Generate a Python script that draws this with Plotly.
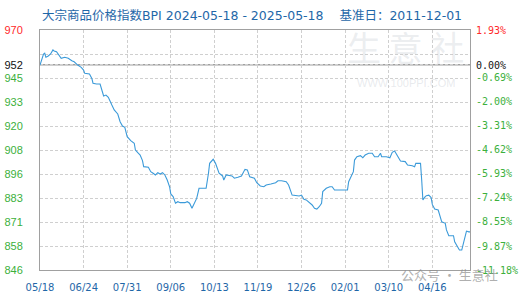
import pandas as pd
import plotly.graph_objects as go

start_date = "2024-05-18"
end_date = "2025-05-18"

# days since start date and BPI values
days_since_start = [0, 3, 4, 5, 7, 9, 11, 12, 14, 16, 18, 21, 24, 27, 29, 32, 35, 37, 38, 42,
                    44, 45, 48, 51, 53, 54, 56, 58, 61, 63, 66, 68, 70, 72, 74, 77, 80, 81, 83, 85,
                    87, 88, 92, 94, 96, 98, 100, 102, 104, 106, 108, 110, 111, 113, 115, 117, 119, 123, 125, 127,
                    129, 131, 133, 135, 141, 143, 144, 147, 149, 152, 155, 156, 158, 163, 165, 168, 171, 174, 176, 178,
                    182, 184, 187, 190, 192, 196, 200, 202, 205, 209, 211, 214, 220, 222, 224, 226, 229, 231, 233, 235,
                    237, 239, 240, 243, 246, 248, 250, 261, 262, 265, 266, 267, 269, 272, 274, 276, 279, 282, 284, 287,
                    289, 290, 294, 297, 299, 301, 303, 306, 310, 312, 316, 318, 319, 323, 324, 325, 327, 328, 330, 332,
                    333, 335, 338, 340, 341, 344, 345, 347, 351, 352, 354, 356, 358, 359, 361, 362, 364, 365]
bpi_values = [951.9, 957.6, 958.0, 955.9, 956.6, 957.6, 959.7, 959.2, 958.8, 957.1, 955.4, 955.9, 955.4, 954.1, 953.6, 951.9, 950.7, 949.3, 947.6, 947.3,
              945.0, 942.5, 942.1, 942.1, 937.3, 935.9, 936.4, 935.2, 931.2, 928.7, 926.6, 922.6, 920.4, 919.7, 914.9, 912.8, 911.5, 908.0, 906.6, 905.4,
              902.5, 899.4, 899.1, 896.8, 896.0, 895.1, 896.3, 895.6, 896.3, 895.1, 892.5, 889.0, 885.3, 883.9, 880.5, 881.3, 880.8, 880.8, 881.3, 880.5,
              877.9, 880.5, 883.0, 888.2, 888.2, 896.0, 901.1, 903.2, 901.1, 896.0, 894.6, 892.5, 895.1, 894.6, 893.4, 893.9, 894.6, 898.0, 897.7, 894.2,
              893.4, 891.1, 889.4, 889.0, 889.9, 890.4, 891.1, 892.1, 892.1, 891.6, 889.9, 884.7, 884.2, 884.7, 882.5, 882.2, 880.8, 879.6, 877.9, 877.5,
              878.7, 880.5, 886.5, 888.2, 889.0, 889.0, 887.3, 887.3, 891.6, 896.0, 896.8, 902.8, 904.5, 905.1, 904.0, 905.4, 906.3, 906.3, 904.5, 904.5,
              906.3, 904.5, 904.5, 904.0, 906.8, 907.5, 905.4, 902.3, 902.0, 900.2, 899.9, 899.4, 901.1, 901.1, 892.5, 882.2, 883.9, 884.4, 884.7, 883.4,
              879.9, 877.5, 877.0, 873.5, 870.9, 870.1, 866.7, 863.7, 863.7, 860.6, 858.0, 856.3, 856.3, 858.9, 862.7, 866.1, 865.7, 865.7]

x_tick_days = [0, 37, 74, 111, 148, 185, 222, 259, 296, 333]
x_tick_labels = ["05/18", "06/24", "07/31", "09/06", "10/13", "11/19", "12/26", "02/01", "03/10", "04/16"]

left_range = [846, 970]
left_tick_vals = [846, 858.4, 870.8, 883.2, 895.6, 908, 920.4, 932.8, 945.2, 952, 957.6, 970]
left_tick_text = ["846", "858", "871", "883", "896", "908", "920", "933", "945", "952", "", "970"]
base_value = 952

right_range = [-11.18, 1.93]
right_tick_vals = [-11.18, -9.87, -8.55, -7.24, -5.93, -4.62, -3.31, -2.00, -0.69, 0.00, 1.93]
right_tick_text = ["-11.18%", "-9.87%", "-8.55%", "-7.24%", "-5.93%", "-4.62%", "-3.31%", "-2.00%", "-0.69%", "0.00%", "1.93%"]

GREEN = "#3cb03c"
RED = "#ff2a2a"
BLACK = "#111111"
BLUE = "#1f67a8"


def colored(text, color):
    return f"<span style='color:{color}'>{text}</span>"


start = pd.Timestamp(start_date)
dates = [start + pd.Timedelta(days=d) for d in days_since_start]
x_tick_vals = [start + pd.Timedelta(days=d) for d in x_tick_days]

lt = []
for v, t in zip(left_tick_vals, left_tick_text):
    if v == 970:
        lt.append(colored(t, RED))
    elif v == base_value:
        lt.append(colored(t, BLACK))
    else:
        lt.append(colored(t, GREEN))

rt = []
for v, t in zip(right_tick_vals, right_tick_text):
    if v > 0:
        rt.append(colored(t, RED))
    elif v == 0:
        rt.append(colored(t, BLACK))
    else:
        rt.append(colored(t, GREEN))

fig = go.Figure()
fig.add_trace(go.Scatter(x=dates, y=bpi_values, mode="lines",
                         line=dict(color="#3b9ad9", width=1.1), showlegend=False))
# invisible trace to activate secondary axis
fig.add_trace(go.Scatter(x=[dates[0]], y=[0], yaxis="y2", mode="markers",
                         marker=dict(opacity=0), showlegend=False, hoverinfo="skip"))

grid = dict(showgrid=True, gridcolor="#cfcfcf", gridwidth=1, griddash="3px,2px")

fig.update_layout(
    width=520, height=300, autosize=False,
    margin=dict(l=40, r=50, t=30, b=30),
    paper_bgcolor="white", plot_bgcolor="white",
    xaxis=dict(type="date", range=[start, pd.Timestamp(end_date)],
               tickvals=x_tick_vals, ticktext=x_tick_labels, tickangle=0, automargin=False,
               tickfont=dict(family="DejaVu Sans", size=10, color=BLUE),
               ticks="outside", ticklen=8, tickcolor="rgba(0,0,0,0)",
               showline=True, linecolor="#a0a0a0", linewidth=1, mirror=True,
               zeroline=False, **grid),
    yaxis=dict(range=left_range, tickvals=left_tick_vals, ticktext=lt, automargin=False,
               tickfont=dict(family="Liberation Sans", size=11),
               ticks="outside", ticklen=14, tickcolor="rgba(0,0,0,0)",
               showline=True, linecolor="#a0a0a0", linewidth=1, mirror=True,
               zeroline=False, **grid),
    yaxis2=dict(range=right_range, tickvals=right_tick_vals, ticktext=rt, automargin=False,
                overlaying="y", side="right", showgrid=False, zeroline=False,
                tickfont=dict(family="DejaVu Sans Mono", size=10),
                ticks="outside", ticklen=3, tickcolor="rgba(0,0,0,0)"),
)

fig.add_shape(type="line", xref="paper", yref="y", x0=0, x1=1, y0=base_value, y1=base_value,
              line=dict(color="#a0a0a0", width=1.5), layer="below")

title_text = ("大宗商品价格指数BPI 2024-05-18 - 2025-05-18\u00a0\u00a0\u00a0\u00a0基准日：2011-12-01")
fig.add_annotation(text=title_text, xref="paper", yref="paper", x=0, y=1.0625,
                   xanchor="left", yanchor="middle", showarrow=False,
                   font=dict(family="DejaVu Sans, Noto Sans CJK SC", size=12.5, color=BLUE))

# faint watermark
fig.add_annotation(text="生\u00a0意\u00a0社", xref="paper", yref="paper", x=0.85, y=0.93,
                   xanchor="center", yanchor="middle", showarrow=False,
                   font=dict(family="Noto Sans CJK SC", size=34, color="rgba(190,195,205,0.3)"))
fig.add_annotation(text="WWW.100PPI.COM", xref="paper", yref="paper", x=0.85, y=0.78,
                   xanchor="center", yanchor="middle", showarrow=False,
                   font=dict(family="Liberation Sans", size=11, color="rgba(190,195,205,0.35)"))
fig.add_annotation(text="公众号 · 生意社", xref="paper", yref="paper", x=1.07, y=-0.018,
                   xanchor="right", yanchor="middle", showarrow=False,
                   font=dict(family="Noto Sans CJK SC", size=13, color="rgba(140,140,140,0.7)"))

fig.write_html("out.html")
